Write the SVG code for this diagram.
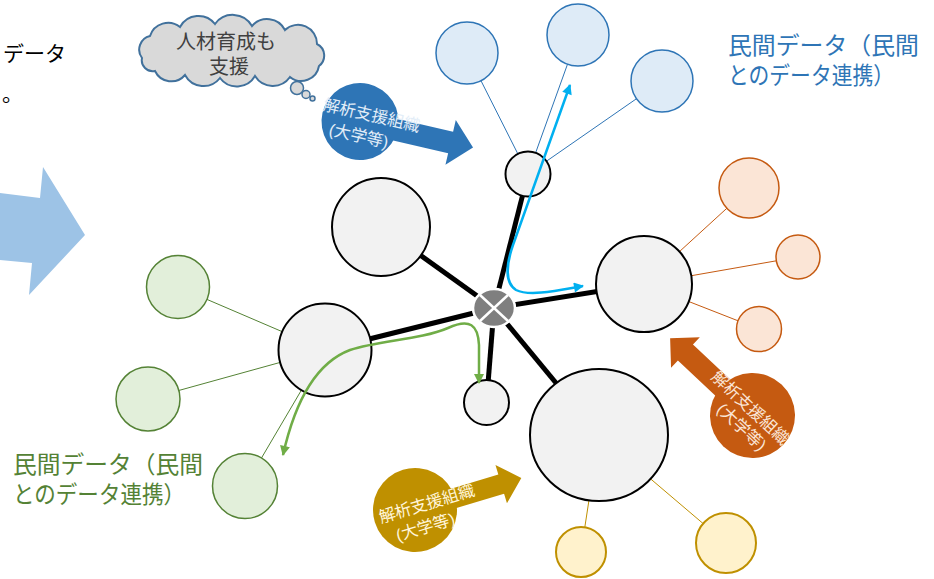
<svg xmlns="http://www.w3.org/2000/svg" width="934" height="579" viewBox="0 0 934 579">
<style>
.t{font-family:'Liberation Sans','Noto Sans CJK JP',sans-serif}
.node{fill:#f2f2f2;stroke:#000;stroke-width:2}
.bl{stroke:#000;stroke-width:5}
.sb{fill:#deebf7;stroke:#2e75b6;stroke-width:1.5}
.so{fill:#fbe5d6;stroke:#c55a11;stroke-width:1.5}
.sg{fill:#e2efda;stroke:#548235;stroke-width:1.5}
.sy{fill:#fff2cc;stroke:#bf9000;stroke-width:2}
.lb{stroke:#2e75b6;stroke-width:1}
.lo{stroke:#c55a11;stroke-width:1}
.lg{stroke:#548235;stroke-width:1}
.ly{stroke:#bf9000;stroke-width:1}
.big{font-size:23.5px}
.lab{font-size:16.5px;text-anchor:middle}
</style>
<defs>
<marker id="ab" viewBox="0 0 10 10" refX="9" refY="5" markerUnits="userSpaceOnUse" markerWidth="11" markerHeight="10" orient="auto-start-reverse"><path d="M0,0 L10,5 L0,10 z" fill="#00b0f0"/></marker>
<marker id="ag" viewBox="0 0 10 10" refX="9" refY="5" markerUnits="userSpaceOnUse" markerWidth="11" markerHeight="10" orient="auto-start-reverse"><path d="M0,0 L10,5 L0,10 z" fill="#70ad47"/></marker>
</defs>
<rect width="934" height="579" fill="#fff"/>

<g id="intro-text" class="t" fill="#000">
<text x="66" y="61" font-size="21" text-anchor="end">データ</text>
<text x="2" y="101" font-size="21">。</text>
</g>

<g id="big-arrow">
<polygon points="0,193 40,198 43,167 85,235 29,295 32,263 0,260" fill="#9dc3e6"/>
</g>

<g id="thought-cloud">
<path d="M142,58 A14,14 0 0 1 150,36 A19,19 0 0 1 180,27 A21,21 0 0 1 215,24 A22,22 0 0 1 252,26 A20,20 0 0 1 285,30 A19,19 0 0 1 317,44 A13,13 0 0 1 319,66 A18,18 0 0 1 290,77 A21,21 0 0 1 255,76 A21,21 0 0 1 220,78 A21,21 0 0 1 185,75 A18,18 0 0 1 155,71 A11,11 0 0 1 142,58 Z" fill="#d9d9d9" stroke="#41719c" stroke-width="2"/>
<circle cx="297" cy="88" r="6.5" fill="#d9d9d9" stroke="#41719c" stroke-width="1.5"/>
<circle cx="306" cy="94.5" r="4" fill="#d9d9d9" stroke="#41719c" stroke-width="1.5"/>
<circle cx="312.5" cy="98.5" r="2.5" fill="#d9d9d9" stroke="#41719c" stroke-width="1.5"/>
<text class="t" x="226" y="49" font-size="20" text-anchor="middle" fill="#404040">人材育成も</text>
<text class="t" x="229" y="74" font-size="20" text-anchor="middle" fill="#404040">支援</text>
</g>

<g id="connectors">
<line class="lb" x1="528" y1="174" x2="467" y2="53"/>
<line class="lb" x1="528" y1="174" x2="578" y2="35"/>
<line class="lb" x1="528" y1="174" x2="662" y2="81"/>
<line class="lo" x1="644" y1="284" x2="749" y2="188"/>
<line class="lo" x1="644" y1="284" x2="798" y2="257"/>
<line class="lo" x1="644" y1="284" x2="759" y2="329"/>
<line class="lg" x1="325" y1="350" x2="178" y2="287"/>
<line class="lg" x1="325" y1="350" x2="148" y2="399"/>
<line class="lg" x1="325" y1="350" x2="245" y2="486"/>
<line class="ly" x1="599" y1="435" x2="581" y2="552"/>
<line class="ly" x1="599" y1="435" x2="726" y2="543"/>
<line class="bl" x1="494" y1="308" x2="528" y2="174"/>
<line class="bl" x1="494" y1="308" x2="381" y2="227"/>
<line class="bl" x1="494" y1="308" x2="644" y2="284"/>
<line class="bl" x1="494" y1="308" x2="325" y2="350"/>
<line class="bl" x1="494" y1="308" x2="486.5" y2="402.5"/>
<line class="bl" x1="494" y1="308" x2="599" y2="435"/>
</g>

<g id="sat-blue">
<circle class="sb" cx="467" cy="53" r="31"/>
<circle class="sb" cx="578" cy="35" r="31"/>
<circle class="sb" cx="662" cy="81" r="31"/>
</g>
<g id="sat-orange">
<circle class="so" cx="749" cy="188" r="30"/>
<circle class="so" cx="798" cy="257" r="22"/>
<circle class="so" cx="759" cy="329" r="22.5"/>
</g>
<g id="sat-green">
<circle class="sg" cx="178" cy="287" r="31.5"/>
<circle class="sg" cx="148" cy="399" r="32"/>
<circle class="sg" cx="245" cy="486" r="32.5"/>
</g>
<g id="sat-gold">
<circle class="sy" cx="581" cy="552" r="25"/>
<circle class="sy" cx="726" cy="543" r="30"/>
</g>

<g id="node-top"><circle class="node" cx="528" cy="174" r="22.5"/></g>
<g id="node-topleft"><circle class="node" cx="381" cy="227" r="49"/></g>
<g id="node-right"><circle class="node" cx="644" cy="284" r="48"/></g>
<g id="node-left"><circle class="node" cx="325" cy="350" r="46.5"/></g>
<g id="node-bottom"><circle class="node" cx="486.5" cy="402.5" r="22.5"/></g>
<g id="node-bottomright"><ellipse class="node" cx="599" cy="435" rx="69" ry="66"/></g>

<g id="hub">
<ellipse cx="494" cy="308" rx="21" ry="19" fill="#7f7f7f" stroke="#fff" stroke-width="2.5"/>
<line x1="480" y1="295" x2="508" y2="321" stroke="#fff" stroke-width="2.5"/>
<line x1="508" y1="295" x2="480" y2="321" stroke="#fff" stroke-width="2.5"/>
</g>

<g id="flows">
<path d="M570,85 L513,245 C506,265 505,283 516,290 C530,297 560,290 583,286" fill="none" stroke="#00b0f0" stroke-width="2.5" marker-start="url(#ab)" marker-end="url(#ab)"/>
<path d="M283,455 C292,415 310,365 350,350 C380,340 420,340 448,328 C470,318 478,325 479,345 L479,383" fill="none" stroke="#70ad47" stroke-width="2.5" marker-start="url(#ag)" marker-end="url(#ag)"/>
</g>

<g id="label-blue" transform="translate(360,121.5) rotate(13)">
<circle r="38.5" fill="#2e75b6"/>
<polygon points="0,-11 93,-11 93,-23 116,0 93,23 93,11 0,11" fill="#2e75b6"/>
<text class="t lab" x="10" y="-3" fill="#e2edf8">解析支援組織</text>
<text class="t lab" x="2" y="20" fill="#e2edf8">(大学等)</text>
</g>

<g id="label-gold" transform="translate(415,510) rotate(-16.7)">
<circle r="42" fill="#bf9000"/>
<polygon points="0,-10 90,-10 90,-20 111,0 90,20 90,10 0,10" fill="#bf9000"/>
<text class="t lab" x="13" y="3" fill="#fff5d9">解析支援組織</text>
<text class="t lab" x="5" y="25" fill="#fff5d9">(大学等)</text>
</g>

<g id="label-orange" transform="translate(752.5,415.5) rotate(43.2)">
<circle r="42.5" fill="#c55a11"/>
<polygon points="0,-11 -92,-11 -92,-21 -113,0 -92,21 -92,11 0,11" fill="#c55a11"/>
<text class="t lab" x="-7" y="1.5" fill="#fbe5d6">解析支援組織</text>
<text class="t lab" x="0" y="21.5" fill="#fbe5d6">(大学等)</text>
</g>

<g id="text-blue" class="t big" fill="#2e75b6">
<text x="728" y="54" textLength="191" lengthAdjust="spacingAndGlyphs">民間データ（民間</text>
<text x="728" y="84" textLength="166" lengthAdjust="spacingAndGlyphs">とのデータ連携）</text>
</g>
<g id="text-green" class="t big" fill="#548235">
<text x="13" y="473" textLength="190" lengthAdjust="spacingAndGlyphs">民間データ（民間</text>
<text x="13" y="503" textLength="172" lengthAdjust="spacingAndGlyphs">とのデータ連携）</text>
</g>
</svg>
